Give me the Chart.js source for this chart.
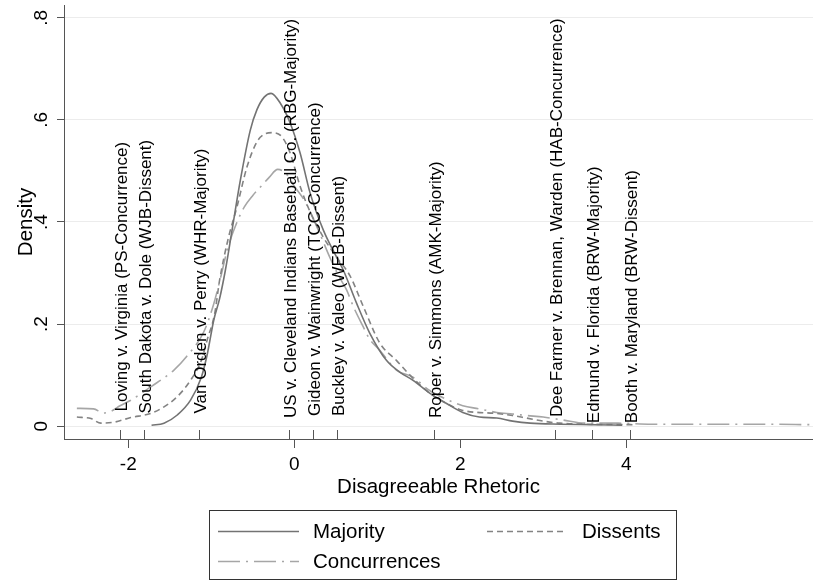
<!DOCTYPE html>
<html><head><meta charset="utf-8">
<script src="https://cdn.jsdelivr.net/npm/chart.js@4.4.1/dist/chart.umd.min.js"></script>
<style>html,body{margin:0;padding:0;background:#fff;}#wrap{width:813px;height:582px;}</style>
</head><body><div id="wrap"><canvas id="c" width="813" height="582"></canvas></div>
<script>
const seriesNames = ['Majority', 'Dissents', 'Concurrences'];

const majX = [-1.72,-1.57,-1.41,-1.25,-1.12,-1.05,-0.97,-0.9,-0.83,-0.75,-0.65,-0.53,-0.45,-0.36,-0.28,-0.17,-0.05,0.07,0.19,0.35,0.51,0.59,0.75,0.91,1.11,1.27,1.43,1.63,1.83,2.03,2.23,2.44,2.63,2.84,3.2,3.6,3.95];
const majY = [0.002,0.006,0.022,0.051,0.096,0.14,0.208,0.25,0.306,0.384,0.482,0.58,0.62,0.645,0.652,0.633,0.594,0.535,0.457,0.384,0.331,0.306,0.241,0.182,0.129,0.106,0.09,0.065,0.045,0.027,0.018,0.016,0.01,0.006,0.004,0.003,0.002];

const disX = [-2.62,-2.45,-2.33,-2.17,-1.97,-1.73,-1.57,-1.41,-1.25,-1.12,-1.05,-0.96,-0.9,-0.8,-0.69,-0.57,-0.45,-0.36,-0.27,-0.15,-0.05,0.07,0.19,0.35,0.51,0.67,0.83,1.03,1.23,1.43,1.63,1.83,2.03,2.44,2.63,2.8,3.0,3.2,3.5,4.1];
const disY = [0.018,0.015,0.006,0.008,0.017,0.025,0.038,0.058,0.09,0.129,0.169,0.22,0.286,0.365,0.43,0.508,0.557,0.572,0.575,0.567,0.535,0.47,0.42,0.37,0.331,0.295,0.235,0.163,0.129,0.094,0.065,0.045,0.031,0.025,0.021,0.016,0.01,0.006,0.004,0.003];

const conX = [-2.62,-2.42,-2.3,-2.2,-2.1,-1.97,-1.73,-1.45,-1.3,-1.09,-0.97,-0.89,-0.8,-0.69,-0.6,-0.5,-0.4,-0.3,-0.2,-0.1,0.0,0.13,0.3,0.43,0.55,0.63,0.71,0.83,0.91,1.03,1.23,1.43,1.63,1.83,2.03,2.23,2.44,2.63,2.8,3.0,3.24,3.5,3.9,4.3,5.0,5.6,6.24];
const conY = [0.035,0.034,0.026,0.03,0.04,0.051,0.077,0.11,0.136,0.185,0.24,0.29,0.35,0.40,0.43,0.452,0.47,0.488,0.503,0.495,0.47,0.44,0.38,0.33,0.29,0.267,0.235,0.195,0.17,0.149,0.11,0.096,0.07,0.053,0.04,0.034,0.027,0.024,0.021,0.018,0.012,0.006,0.006,0.004,0.004,0.004,0.003];

const xTicks = [-2, 0, 2, 4];
const yTicks = [0, 0.2, 0.4, 0.6, 0.8];

const caseLabels = [
  'Loving v. Virginia (PS-Concurrence)',
  'South Dakota v. Dole (WJB-Dissent)',
  'Van Orden v. Perry (WHR-Majority)',
  'US v. Cleveland Indians Baseball Co. (RBG-Majority)',
  'Gideon v. Wainwright (TCC-Concurrence)',
  'Buckley v. Valeo (WEB-Dissent)',
  'Roper v. Simmons (AMK-Majority)',
  'Dee Farmer v. Brennan, Warden (HAB-Concurrence)',
  'Edmund v. Florida (BRW-Majority)',
  'Booth v. Maryland (BRW-Dissent)'
];
const caseX = [-2.10, -1.81, -1.152, -0.06, 0.222, 0.518, 1.683, 3.145, 3.583, 4.045];
const caseY = [0.029, 0.025, 0.025, 0.016, 0.02, 0.02, 0.016, 0.018, 0.006, 0.006];

const FONT = '"Liberation Sans", Arial, Helvetica, sans-serif';
Chart.defaults.font.family = FONT;
Chart.defaults.color = '#000';

const toPts = (xs, ys) => xs.map((x, i) => ({x: x, y: ys[i]}));

const casePlugin = {
  id: 'cases',
  afterDatasetsDraw(chart) {
    const ctx = chart.ctx, xs = chart.scales.x, ys = chart.scales.y, ca = chart.chartArea;
    ctx.save();
    ctx.strokeStyle = '#555';
    ctx.lineWidth = 1;
    caseX.forEach((v, i) => {
      const px = Math.round(xs.getPixelForValue(v)) + 0.5;
      ctx.beginPath();
      ctx.moveTo(px, ca.bottom);
      ctx.lineTo(px, ca.bottom - 9);
      ctx.stroke();
      const py = ys.getPixelForValue(caseY[i]);
      ctx.save();
      ctx.translate(px + 1.5, py);
      ctx.rotate(-Math.PI / 2);
      ctx.font = '17px ' + FONT;
      ctx.fillStyle = '#000';
      ctx.textAlign = 'left';
      ctx.textBaseline = 'middle';
      ctx.fillText(caseLabels[i], 0, 0);
      ctx.restore();
    });
    ctx.restore();
  }
};

const legendPlugin = {
  id: 'boxLegend',
  afterDraw(chart) {
    const ctx = chart.ctx;
    ctx.save();
    ctx.strokeStyle = '#333';
    ctx.lineWidth = 1;
    ctx.strokeRect(209.5, 510.5, 467, 69);
    const slots = [
      {x1: 218, x2: 299, y: 531, tx: 313},
      {x1: 487, x2: 567, y: 531, tx: 582},
      {x1: 218, x2: 299, y: 561, tx: 313}
    ];
    chart.data.datasets.forEach((ds, i) => {
      const s = slots[i];
      ctx.beginPath();
      ctx.strokeStyle = ds.borderColor;
      ctx.lineWidth = ds.borderWidth;
      ctx.setLineDash(ds.borderDash || []);
      ctx.moveTo(s.x1, s.y + 0.5);
      ctx.lineTo(s.x2, s.y + 0.5);
      ctx.stroke();
      ctx.setLineDash([]);
      ctx.fillStyle = '#000';
      ctx.font = '20.5px ' + FONT;
      ctx.textAlign = 'left';
      ctx.textBaseline = 'middle';
      ctx.fillText(seriesNames[i], s.tx, s.y + 1);
    });
    ctx.restore();
  }
};

new Chart(document.getElementById('c'), {
  type: 'line',
  data: {
    datasets: [
      {label: seriesNames[0], data: toPts(majX, majY), borderColor: '#737373', borderWidth: 1.6, borderDash: []},
      {label: seriesNames[1], data: toPts(disX, disY), borderColor: '#838383', borderWidth: 1.6, borderDash: [6, 4]},
      {label: seriesNames[2], data: toPts(conX, conY), borderColor: '#a6a6a6', borderWidth: 1.6, borderDash: [22, 6, 2, 6]}
    ]
  },
  options: {
    responsive: false,
    animation: false,
    devicePixelRatio: 1,
    layout: {padding: {top: 5, right: 0, bottom: 82, left: 0}},
    plugins: {legend: {display: false}, tooltip: {enabled: false}},
    elements: {point: {radius: 0}, line: {cubicInterpolationMode: 'monotone', fill: false}},
    scales: {
      x: {
        type: 'linear', min: -2.775, max: 6.25,
        afterBuildTicks: s => { s.ticks = xTicks.map(v => ({value: v})); },
        afterFit: s => { s.height = 61; s.paddingLeft = 0; s.paddingRight = 0; },
        grid: {drawOnChartArea: false, drawTicks: true, tickLength: 9, color: '#555', tickColor: '#555'},
        border: {display: true, color: '#555', width: 1},
        ticks: {padding: 5, font: {size: 19}, color: '#000', maxRotation: 0, autoSkip: false, callback: v => String(v)},
        title: {display: true, text: 'Disagreeable Rhetoric', font: {size: 20.5}, color: '#000', padding: {top: 0, bottom: 0}}
      },
      y: {
        type: 'linear', min: -0.025, max: 0.825,
        afterBuildTicks: s => { s.ticks = yTicks.map(v => ({value: v})); },
        afterFit: s => { s.width = 64; s.paddingTop = 0; s.paddingBottom = 0; },
        grid: {color: '#ececec', tickColor: '#555', tickLength: 7, drawTicks: true},
        border: {display: true, color: '#555', width: 1},
        ticks: {padding: 7, minRotation: 90, maxRotation: 90, crossAlign: 'center', font: {size: 19}, color: '#000',
          callback: v => v === 0 ? '0' : String(v).replace(/^0\./, '.')},
        title: {display: true, text: 'Density', font: {size: 20.5}, color: '#000', padding: {top: 14, bottom: 0}}
      }
    }
  },
  plugins: [casePlugin, legendPlugin]
});
</script></body></html>
